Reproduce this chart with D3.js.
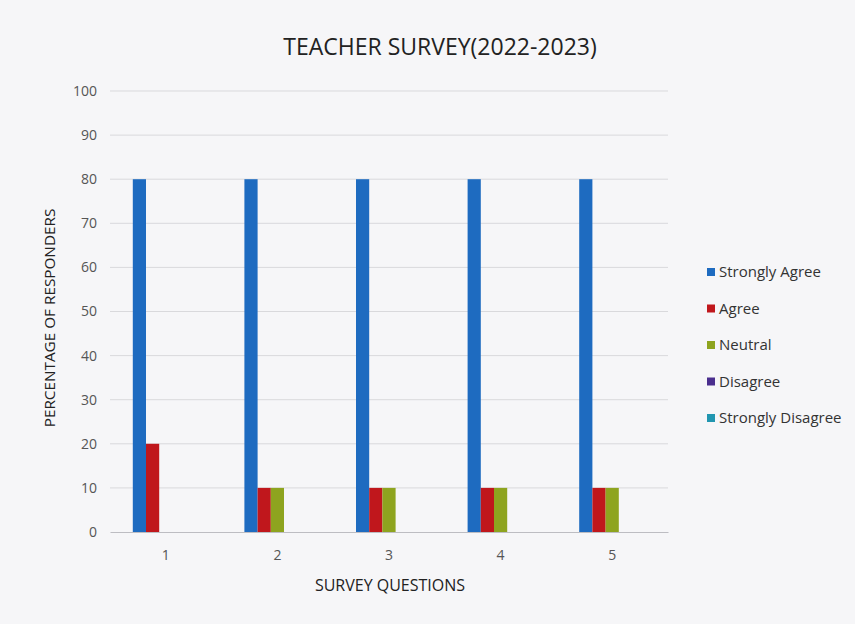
<!DOCTYPE html>
<html><head><meta charset="utf-8">
<script src="https://cdn.jsdelivr.net/npm/d3@7"></script>
<style>body{margin:0;background:#f6f6f8;} text{font-family:"Open Sans",Lato,sans-serif;fill:#222;}</style>
</head><body><svg id="c" width="855" height="624"></svg>
<script>
const categories = ["1","2","3","4","5"];
const seriesNames = ["Strongly Agree","Agree","Neutral","Disagree","Strongly Disagree"];
const stronglyAgree = [80,80,80,80,80];
const agree = [20,10,10,10,10];
const neutral = [0,10,10,10,10];
const disagree = [0,0,0,0,0];
const stronglyDisagree = [0,0,0,0,0];
const yTicks = [0,10,20,30,40,50,60,70,80,90,100];
const colors = ["#1e6bc0","#c0171c","#8ea41f","#4a2e8e","#2196b0"];
const seriesValues = [stronglyAgree, agree, neutral, disagree, stronglyDisagree];

const svg = d3.select("#c");
svg.append("rect").attr("width",855).attr("height",624).attr("fill","#f6f6f8");
const L=110,R=668,T=91,B=532;
const x = d3.scaleBand().domain(categories).range([L,R]);
const x1 = d3.scaleBand().domain(seriesNames).range([0,66]);
const y = d3.scaleLinear().domain([0,100]).range([B,T]);

svg.append("g").selectAll("line").data(yTicks.filter(d=>d>0)).join("line")
  .attr("x1",L).attr("x2",R).attr("y1",d=>y(d)).attr("y2",d=>y(d))
  .attr("stroke","#d9d9dc").attr("stroke-width",1);

const yAxis = svg.append("g").attr("transform",`translate(${L},0)`)
  .call(d3.axisLeft(y).tickValues(yTicks).tickSize(0).tickPadding(13));
yAxis.select(".domain").remove();
yAxis.selectAll("text").attr("font-size",14).style("fill","#555");

const groups = svg.append("g").selectAll("g").data(categories).join("g")
  .attr("transform",d=>`translate(${x(d)+x.bandwidth()/2-33},0)`);
groups.selectAll("rect").data((c,i)=>seriesNames.map((s,j)=>({s,v:seriesValues[j][i],j})))
  .join("rect")
  .attr("x",d=>x1(d.s)).attr("width",x1.bandwidth())
  .attr("y",d=>y(d.v)).attr("height",d=>B-y(d.v))
  .attr("fill",d=>colors[d.j]);

const xAxis = svg.append("g").attr("transform",`translate(0,${B})`)
  .call(d3.axisBottom(x).tickSize(0).tickPadding(18));
xAxis.select(".domain").attr("stroke","#bdbdc2");
xAxis.selectAll("text").attr("font-size",14).style("fill","#555");

svg.append("text").attr("x",440).attr("y",55).attr("text-anchor","middle")
  .attr("font-size",23).text("TEACHER SURVEY(2022-2023)");
svg.append("text").attr("x",390).attr("y",591).attr("text-anchor","middle")
  .attr("font-size",16).text("SURVEY QUESTIONS");
svg.append("text").attr("transform","translate(55,318) rotate(-90)").attr("text-anchor","middle")
  .attr("font-size",15.3).text("PERCENTAGE OF RESPONDERS");

const leg = svg.append("g").selectAll("g").data(seriesNames).join("g")
  .attr("transform",(d,i)=>`translate(707,${272+i*36.5})`);
leg.append("rect").attr("x",0).attr("y",-4).attr("width",8).attr("height",8).attr("fill",(d,i)=>colors[i]);
leg.append("text").attr("x",12).attr("y",5).attr("font-size",15).style("fill","#333").text(d=>d);
</script></body></html>
